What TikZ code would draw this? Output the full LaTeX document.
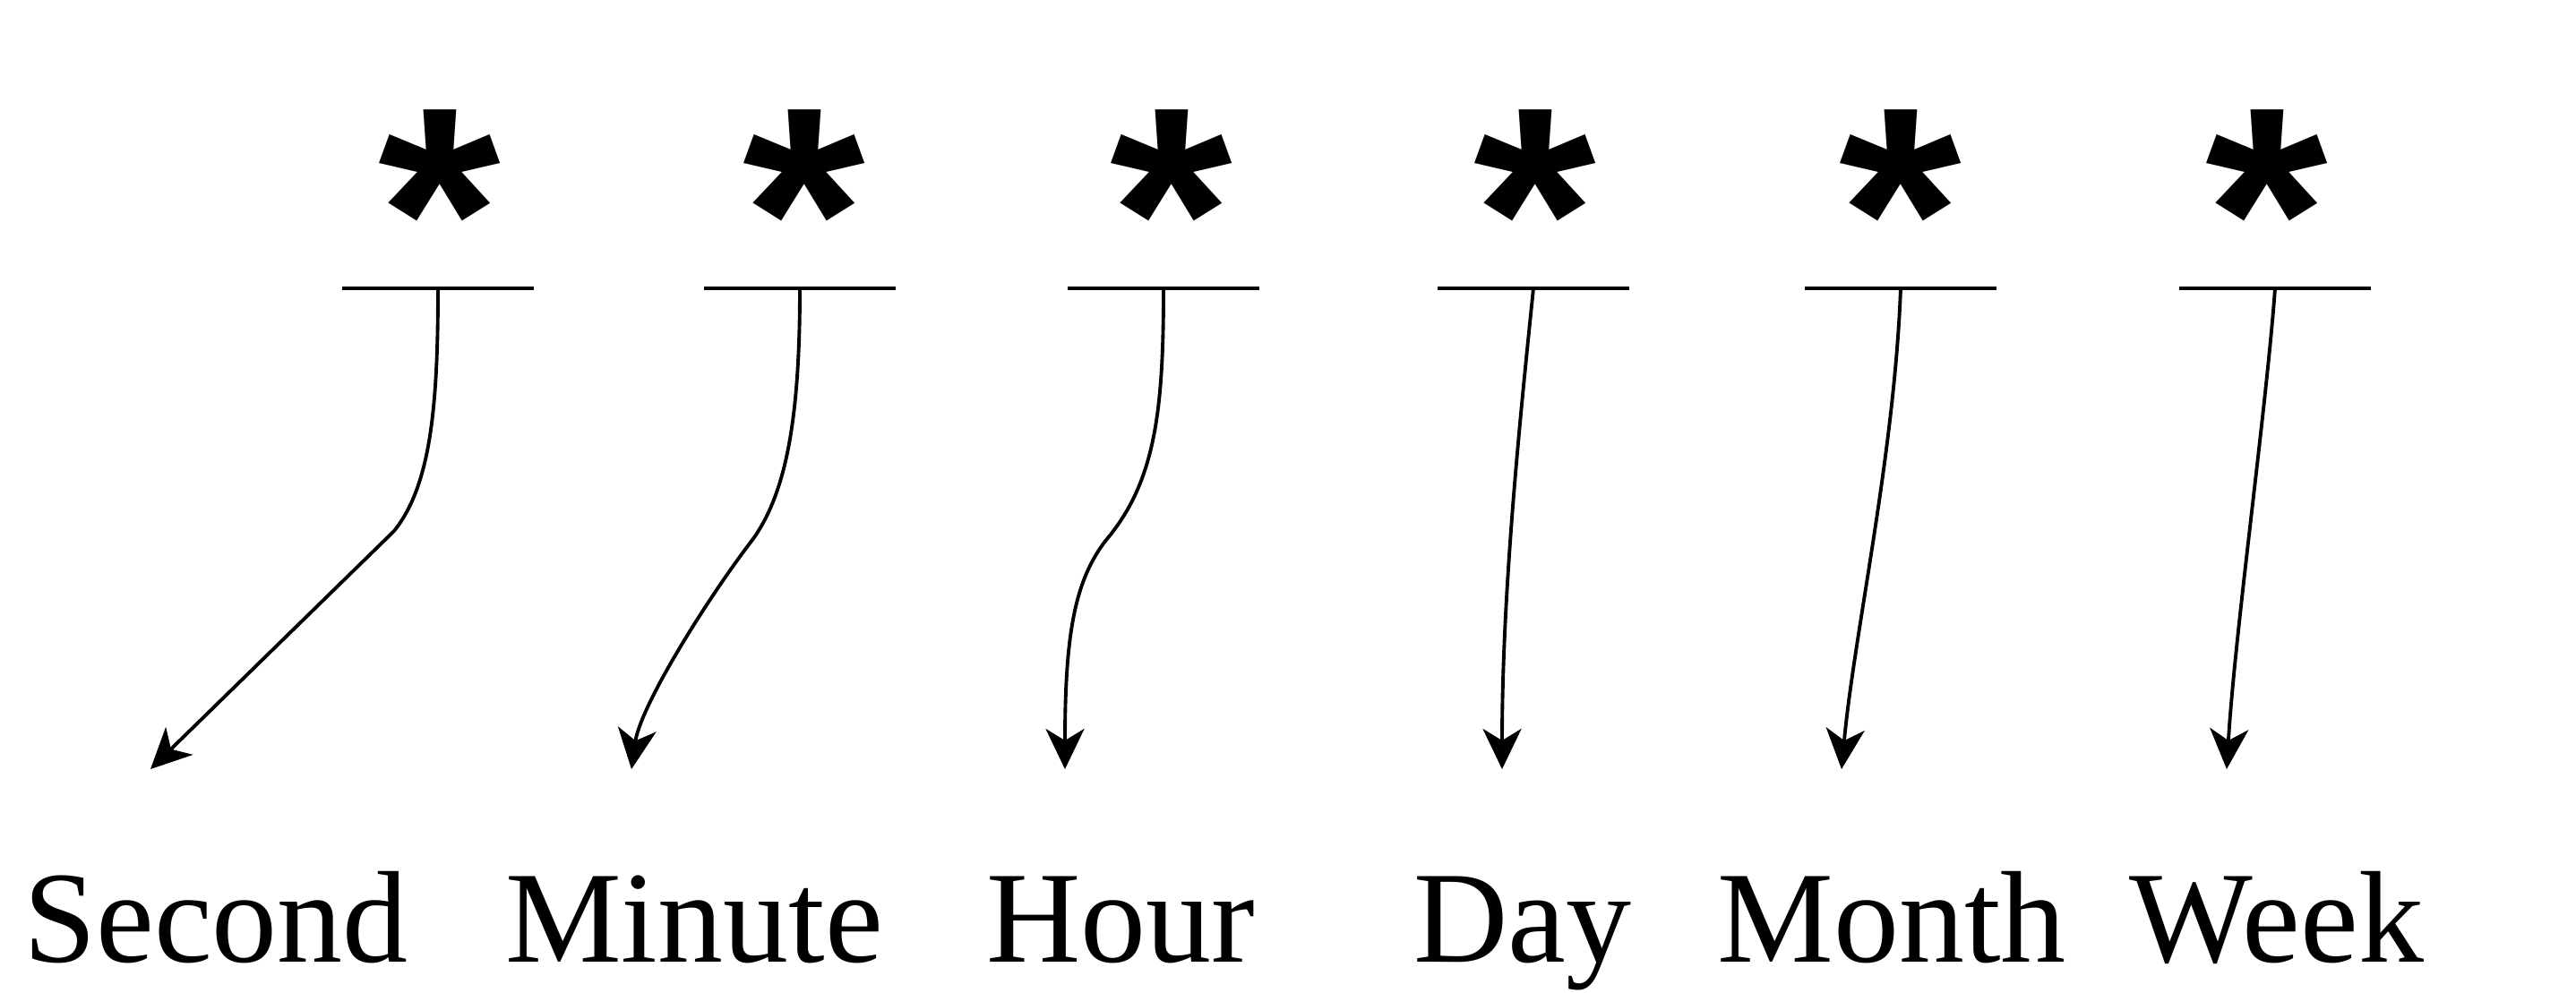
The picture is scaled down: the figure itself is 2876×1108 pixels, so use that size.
\documentclass[tikz,border=0pt]{standalone}
\usepackage{fontspec}
\setmainfont{Liberation Serif}
\newfontfamily\astfont{Liberation Sans}
\usetikzlibrary{arrows.meta}
\tikzset{
  lbl/.style={anchor=base, inner sep=0pt, font=\fontsize{41.5}{45}\selectfont},
  ast/.style={anchor=base, inner sep=0pt, xscale=1.05, font=\astfont\bfseries\fontsize{95}{98}\selectfont},
  barline/.style={line width=1.25pt},
  arr/.style={line width=1.1pt, -{Stealth[length=0.45cm, width=0.43cm, inset=0.13cm]}}
}
\begin{document}
\begin{tikzpicture}[x=0.01cm, y=0.01cm]
\useasboundingbox (0,0) rectangle (2876,1108);
% asterisks
\node[ast] (s1) at (491,756) {*};
\node[ast] (s2) at (898,756) {*};
\node[ast] (s3) at (1308,756) {*};
\node[ast] (s4) at (1714,756) {*};
\node[ast] (s5) at (2122,756) {*};
\node[ast] (s6) at (2531,756) {*};
% bar centres
\coordinate (b1) at (489,786);
\coordinate (b2) at (893,786);
\coordinate (b3) at (1299,786);
\coordinate (b4) at (1712,786);
\coordinate (b5) at (2122,786);
\coordinate (b6) at (2540,786);
\foreach \b in {b1,b2,b3,b4,b5,b6}
  \draw[barline] (\b) ++(-107,0) -- ++(214,0);
% labels
\node[lbl] (l1) at (241,34) {Second};
\node[lbl] (l2) at (775,34) {Minute};
\node[lbl] (l3) at (1251,34) {Hour};
\node[lbl] (l4) at (1700,34) {Day};
\node[lbl] (l5) at (2112,34) {Month};
\node[lbl] (l6) at (2542,34) {Week};
% arrow tips
\coordinate (t1) at (168,249);
\coordinate (t2) at (705,249);
\coordinate (t3) at (1189,249);
\coordinate (t4) at (1677,249);
\coordinate (t5) at (2056,249);
\coordinate (t6) at (2486,249);
% connectors
\draw[arr] (b1) .. controls (489,650) and (480,565) .. (440,515) -- (t1);
\draw[arr] (b2) .. controls (893,650) and (880,560) .. (840,505) .. controls (790,440) and (715,320) .. (t2);
\draw[arr] (b3) .. controls (1299,650) and (1290,570) .. (1235,505) .. controls (1200,460) and (1189,400) .. (t3);
\draw[arr] (b4) .. controls (1698,650) and (1677,450) .. (t4);
\draw[arr] (b5) .. controls (2115,600) and (2070,400) .. (t5);
\draw[arr] (b6) .. controls (2530,650) and (2495,400) .. (t6);
\end{tikzpicture}
\end{document}
